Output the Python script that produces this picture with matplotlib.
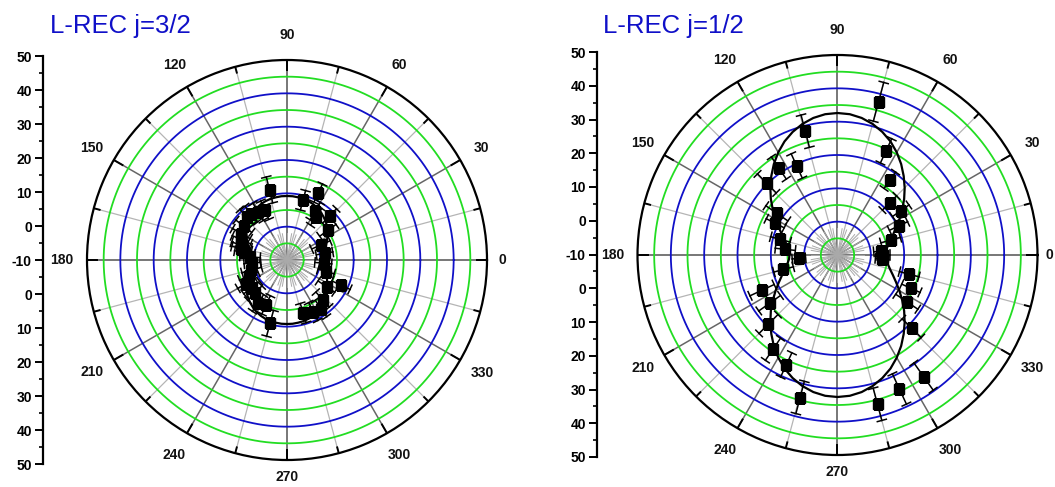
import numpy as np
import matplotlib.pyplot as plt

plt.rcParams['font.family'] = ['Liberation Sans', 'DejaVu Sans']

#data - left panel (j=3/2): angle (deg), value, error
ang_32 = [10, 24, 36, 46, 56, 60, 65, 75, 104, 114, 121, 128, 133, 142, 150, 156, 162, 166,
          170, 175, 185, 196, 203, 210, 218, 226, 236, 245, 255, 287, 297, 305, 312, 326,
          335, 343.5, 355]
val_32 = [1.5, 1.2, 5.2, 8.4, 5.7, 7.0, 12.2, 8.6, 11.7, 6.4, 6.9, 7.5, 7.8, 6.5, 5.9, 5.0, 4.5,
          4.1, 3.0, 1.2, 0.5, 1.1, 2.5, 4.1, 3.5, 3.9, 5.6, 4.9, 9.7, 6.7, 7.4, 7.8, 6.0, 4.3,
          7.9, 2.3, 1.0]
err_32 = [2.5, 3, 3, 3, 3, 3, 3, 3, 4, 3, 3, 3, 3, 3, 3, 3, 3, 3,
          3, 3, 2.5, 3, 3, 3, 3, 3, 3, 3, 4, 3, 3, 3, 3, 3,
          3, 2.5, 2.5]

#data - right panel (j=1/2)
ang_12 = [0, 5, 15.7, 25.4, 35, 45, 55, 65, 75, 104.6, 114.6, 124, 134.6, 145.5, 153, 164.7,
          173.8, 185, 195, 205, 215.4, 225, 235.6, 245, 255.3, 285, 294.8, 305.3, 315.4, 326,
          335.6, 345, 355]
val_12 = [3.8, 3.0, 6.6, 10.3, 13.2, 12.1, 17.4, 24.5, 37.6, 28.4, 19.4, 21.5, 20.2, 12.1, 11.0,
          7.8, 5.8, 1.7, 6.8, 15.0, 15.0, 19.3, 24.3, 26.4, 34.2, 36.4, 34.3, 34.7, 21.3, 15.1,
          14.2, 12.3, 3.5]
err_12 = [2, 2, 3, 3, 3, 3, 3, 4, 6, 5, 4, 4, 4, 4, 3, 3,
          3, 2, 3, 4, 4, 4, 4, 4, 5, 5, 5, 5, 4, 4,
          3, 3, 2]

#fit curves, one quadrant (0-90 deg), mirrored to the full circle
fit_ang = [0, 5, 10, 15, 20, 25, 30, 35, 40, 45, 50, 55, 60, 65, 70, 75, 80, 85, 90]
fit_32 = [0.8, 0.9, 1.2, 1.7, 2.4, 3.2, 4.0, 4.9, 5.7, 6.4, 7.0, 7.6, 8.1, 8.5, 8.8, 9.0, 9.1, 9.2, 9.2]
fit_12 = [4.4, 4.6, 5.3, 6.3, 7.7, 9.4, 11.45, 13.7, 16.1, 18.5, 20.9, 23.3, 25.55, 27.6, 29.3,
          30.7, 31.75, 32.4, 32.6]

titles = ['L-REC j=3/2', 'L-REC j=1/2']
angle_labels = ['0', '30', '60', '90', '120', '150', '180', '210', '240', '270', '300', '330']

RMIN, RMAX = -10, 50
blue = '#1010c8'
green = '#22dd22'


def full_curve(q_ang, q_val):
    a = np.array(q_ang, float)
    v = np.array(q_val, float)
    ang = np.concatenate([a, 180 - a[::-1], 180 + a, 360 - a[::-1]])
    val = np.concatenate([v, v[::-1], v, v[::-1]])
    return np.radians(ang), val


def polar_panel(ax, ang, val, err, q_val, zero_r=56.8):
    ax.set_rlim(RMIN, RMAX)
    ax.grid(False)
    ax.set_xticks([])
    ax.set_yticks([])
    ax.spines['polar'].set_color('black')
    ax.spines['polar'].set_linewidth(1.6)

    th = np.linspace(0, 2*np.pi, 400)
    # angular grid lines
    for d in range(0, 360, 15):
        t = np.radians(d)
        if d % 90 == 0:
            ax.plot([t, t], [RMIN, RMAX], color='#777777', lw=1.4, zorder=1)
        elif d % 30 == 0:
            ax.plot([t, t], [RMIN, RMAX], color='#666666', lw=1.1, zorder=1)
        else:
            ax.plot([t, t], [RMIN, RMAX], color='#b5b5b5', lw=0.9, zorder=1)
        # ticks on the outer circle
        tl = 3.0 if d % 30 == 0 else 1.8
        ax.plot([t, t], [RMAX - tl, RMAX], color='black', lw=1.4, zorder=3)
    # center star
    for d in range(0, 360, 10):
        t = np.radians(d)
        ax.plot([t, t], [RMIN, -2], color='#aaaaaa', lw=0.7, zorder=1)

    # circles
    for r in np.arange(-5, 50, 5):
        c = blue if r % 10 == 0 else green
        ax.plot(th, np.full_like(th, r), color=c, lw=1.3, zorder=2)

    # fit curve
    ft, fv = full_curve(fit_ang, q_val)
    ax.plot(ft, fv, color='black', lw=1.6, zorder=4)

    # data points with radial error bars
    t = np.radians(ang)
    v = np.array(val)
    e = np.array(err)
    for ti, vi, ei in zip(t, v, e):
        ax.plot([ti, ti], [vi - ei, vi + ei], color='black', lw=1.1, zorder=5)
        for rc in (vi - ei, vi + ei):
            half = 1.4 / (rc - RMIN)
            ax.plot([ti - half, ti + half], [rc, rc], color='black', lw=1.1, zorder=5)
    ax.plot(t, v, 's', color='black', markersize=7.5, zorder=6)

    # angle labels
    for i, lab in enumerate(angle_labels):
        if i == 0:
            ax.text(0, zero_r, lab, ha='left', va='center',
                    fontsize=10, fontweight='bold', color='#111111', clip_on=False)
        else:
            rr = 55.2 if lab == '270' else 57.5
            ax.text(np.radians(30*i), rr, lab, ha='center', va='center',
                    fontsize=10, fontweight='bold', color='#111111', clip_on=False)


def radial_axis(fig, rect):
    axr = fig.add_axes(rect)
    axr.set_xlim(0, 1)
    axr.set_ylim(-60, 60)
    for s in ['top', 'right', 'bottom']:
        axr.spines[s].set_visible(False)
    axr.spines['left'].set_linewidth(1.6)
    axr.set_xticks([])
    ticks = np.arange(-60, 61, 10)
    axr.set_yticks(ticks)
    axr.set_yticklabels([str(abs(int(k)) - 10) for k in ticks], fontsize=10, fontweight='bold')
    axr.set_yticks(np.arange(-55, 60, 10), minor=True)
    axr.tick_params(axis='y', which='major', length=6, width=1.4, pad=2)
    axr.tick_params(axis='y', which='minor', length=3, width=1.2)
    axr.patch.set_alpha(0)


fig = plt.figure(figsize=(10.55, 4.87), dpi=100)

ax1 = fig.add_axes([87/1055, 27/487, 400/1055, 400/487], projection='polar')
polar_panel(ax1, ang_32, val_32, err_32, fit_32, zero_r=53.5)
radial_axis(fig, [43/1055, 23/487, 0.002, 408/487])
fig.text(50/1055, 1 - 33/487, titles[0], color=blue, fontsize=18.5, ha='left', va='baseline')

ax2 = fig.add_axes([637.5/1055, 32/487, 400/1055, 400/487], projection='polar')
polar_panel(ax2, ang_12, val_12, err_12, fit_12, zero_r=52.3)
radial_axis(fig, [597/1055, 30/487, 0.002, 405/487])
fig.text(603/1055, 1 - 33/487, titles[1], color=blue, fontsize=18.5, ha='left', va='baseline')

plt.savefig('out.png', dpi=100)
